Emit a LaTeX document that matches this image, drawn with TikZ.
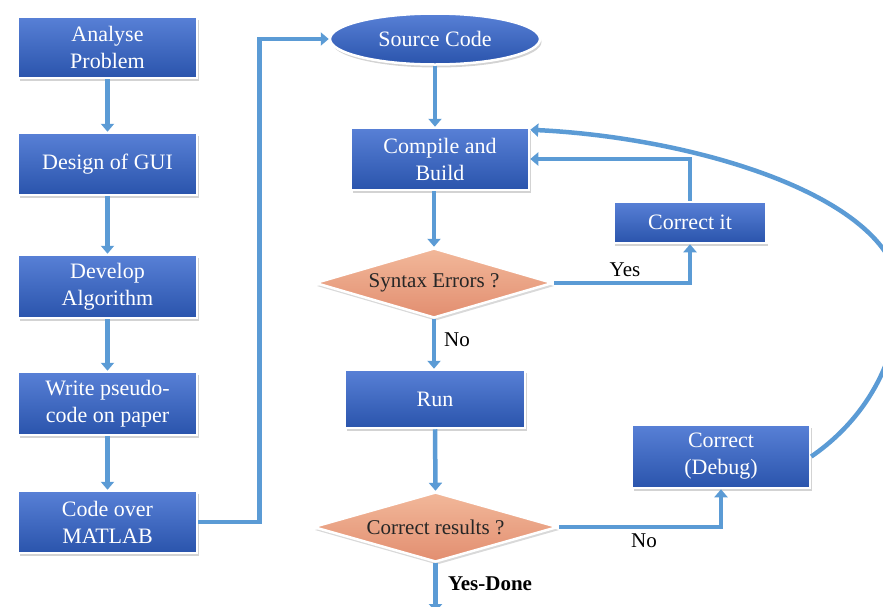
\documentclass[tikz,border=0pt]{standalone}
\usepackage{fontspec}
\setmainfont{Liberation Serif}
\usetikzlibrary{shapes.geometric,arrows.meta,shadows,calc}
\definecolor{arrowblue}{RGB}{91,155,213}
\definecolor{boxtop}{RGB}{88,128,214}
\definecolor{boxbot}{RGB}{42,84,172}
\definecolor{dtop}{RGB}{242,184,154}
\definecolor{dbot}{RGB}{226,142,112}
\tikzset{
  stepbox/.style={rectangle, draw=white, line width=2.5pt, top color=boxtop, bottom color=boxbot,
    text=white, align=center, inner sep=0pt, font=\fontsize{22}{27}\selectfont,
    drop shadow={opacity=0.35, shadow xshift=1.5pt, shadow yshift=-3pt}},
  ovalbox/.style={ellipse, draw=white, line width=2.5pt, top color=boxtop, bottom color=boxbot,
    text=white, align=center, inner sep=0pt, font=\fontsize{22}{27}\selectfont,
    drop shadow={opacity=0.35, shadow xshift=1.5pt, shadow yshift=-3pt}},
  decide/.style={diamond, aspect=3.4, draw=white, line width=2.5pt, top color=dtop, bottom color=dbot,
    text=black!85, align=center, inner sep=0pt, font=\fontsize{21}{25}\selectfont,
    drop shadow={opacity=0.3, shadow xshift=1.5pt, shadow yshift=-3pt}},
  arr/.style={draw=arrowblue, line width=4.5pt, -{Triangle[length=8pt,width=13pt]}},
  ln/.style={draw=arrowblue, line width=4.5pt},
  lbl/.style={text=black, font=\fontsize{21}{25}\selectfont, inner sep=0pt}
}
\begin{document}
\begin{tikzpicture}[x=1pt,y=-1pt]
\useasboundingbox (0,0) rectangle (883,606);
% left column
\node[stepbox, minimum width=179pt, minimum height=61pt] (a1) at (107.5,47.5) {Analyse\\Problem};
\node[stepbox, minimum width=179pt, minimum height=62pt] (a2) at (107.5,164) {Design of GUI};
\node[stepbox, minimum width=179pt, minimum height=63pt] (a3) at (107.5,286.5) {Develop\\Algorithm};
\node[stepbox, minimum width=179pt, minimum height=63pt] (a4) at (107.5,403.5) {Write pseudo-\\code on paper};
\node[stepbox, minimum width=179pt, minimum height=62pt] (a5) at (107.5,522) {Code over\\MATLAB};
% right column
\node[ovalbox, minimum width=210pt, minimum height=51pt] (src) at (435,39) {Source Code};
\node[stepbox, minimum width=178pt, minimum height=62pt] (cb) at (440,159) {Compile and\\Build};
\node[decide, minimum width=238pt, minimum height=70pt] (syn) at (434,283) {Syntax Errors ?};
\node[stepbox, minimum width=153pt, minimum height=41pt] (ci) at (690,222.5) {Correct it};
\node[stepbox, minimum width=180pt, minimum height=58pt] (run) at (435,399) {Run};
\node[decide, minimum width=245pt, minimum height=70pt] (cr) at (435.5,527) {Correct results ?};
\node[stepbox, minimum width=178pt, minimum height=63pt] (dbg) at (721,456.5) {Correct\\(Debug)};
\coordinate (done) at (435.5,612);
% left arrows
\draw[arr] (a1.south) -- (a2.north);
\draw[arr] (a2.south) -- (a3.north);
\draw[arr] (a3.south) -- (a4.north);
\draw[arr] (a4.south) -- (a5.north);
\draw[arr] (a5.east) -- ++(61,0) |- (src.west);
% main flow
\draw[arr] (src.south) -- (src.south |- cb.north);
\draw[arr] (syn.north |- cb.south) -- (syn.north);
\draw[arr] (syn.south) -- (syn.south |- run.north);
\draw[arr] (run.south) -- (cr.north);
\draw[arr] (cr.south) -- (done);
% syntax loop
\draw[arr] (syn.east) -| (ci.south);
\draw[arr] (ci.north) |- (cb.east);
% debug loop
\draw[arr] (cr.east) -| (dbg.south);
\draw[arr] (dbg.east) .. controls (850,430) and (895,380) .. (900,300)
   .. controls (905,200) and (700,138) .. ([yshift=-3pt]cb.north east);
% labels
\node[lbl] (lyes) at (625,270) {Yes};
\node[lbl] (lno1) at (457,340) {No};
\node[lbl] (lno2) at (644,541) {No};
\node[lbl, font=\fontsize{21}{25}\selectfont\bfseries] (ldone) at (490,584) {Yes-Done};
\end{tikzpicture}
\end{document}
